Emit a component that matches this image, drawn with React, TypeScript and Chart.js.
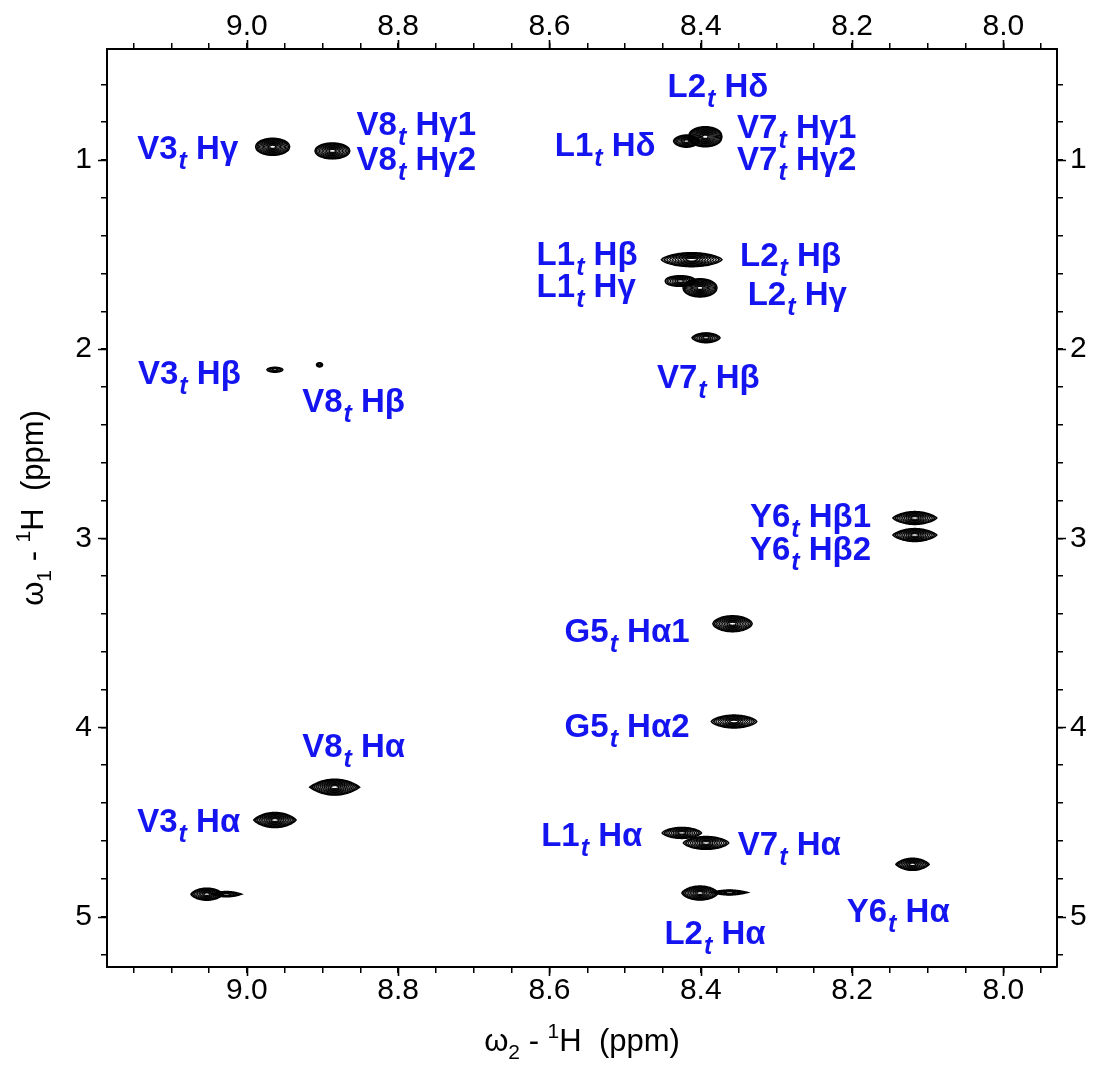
import React, { useEffect, useRef } from "react";
import { Chart, registerables } from "chart.js";

Chart.register(...registerables);

const FONT = '"Liberation Sans", Arial, Helvetica, sans-serif';
const BLUE = "rgb(20, 20, 240)";

// Axis ranges (ppm), both axes reversed as in the spectrum
const X_MIN = 7.929;
const X_MAX = 9.185;
const Y_MIN = 0.413;
const Y_MAX = 5.267;

// Peak (cross-peak) centres: omega2 (x) and omega1 (y), ppm
const peakX = [8.966, 8.887, 8.394, 8.419, 8.412, 8.401, 8.427, 8.393, 8.963, 8.904, 8.117, 8.117, 8.358, 8.356, 8.884, 8.963, 9.053, 9.027, 8.425, 8.393, 8.401, 8.362, 8.12];
const peakY = [0.93, 0.952, 0.877, 0.9, 1.527, 1.676, 1.64, 1.94, 2.109, 2.083, 2.893, 2.983, 3.452, 3.969, 4.316, 4.49, 4.882, 4.882, 4.558, 4.611, 4.876, 4.873, 4.724];
// Peak half-widths (ppm) along omega2 and omega1, and lineshape exponent
const peakHalfW2 = [0.0225, 0.023, 0.022, 0.017, 0.04, 0.0225, 0.02, 0.0185, 0.0105, 0.004, 0.029, 0.029, 0.026, 0.03, 0.033, 0.028, 0.021, 0.02, 0.026, 0.03, 0.024, 0.024, 0.022];
const peakHalfW1 = [0.045, 0.042, 0.053, 0.032, 0.037, 0.048, 0.028, 0.026, 0.013, 0.011, 0.034, 0.034, 0.042, 0.034, 0.042, 0.04, 0.032, 0.014, 0.029, 0.034, 0.037, 0.013, 0.032];
const peakShape = [0.5, 0.5, 0.45, 0.6, 0.7, 0.5, 0.45, 0.7, 0.6, 0.5, 0.8, 0.8, 0.6, 0.7, 0.9, 0.8, 0.7, 1.0, 0.7, 0.7, 0.7, 1.0, 0.8];

// Assignment labels
const labelResidue = ["V3", "V8", "V8", "L2", "L1", "V7", "V7", "L1", "L1", "L2", "L2", "V7", "V3", "V8", "Y6", "Y6", "G5", "G5", "V8", "V3", "L1", "V7", "L2", "Y6"];
const labelAtom = ["Hγ", "Hγ1", "Hγ2", "Hδ", "Hδ", "Hγ1", "Hγ2", "Hβ", "Hγ", "Hβ", "Hγ", "Hβ", "Hβ", "Hβ", "Hβ1", "Hβ2", "Hα1", "Hα2", "Hα", "Hα", "Hα", "Hα", "Hα", "Hα"];
const labelX = [9.145, 8.855, 8.855, 8.444, 8.593, 8.352, 8.352, 8.617, 8.617, 8.348, 8.338, 8.458, 9.144, 8.927, 8.335, 8.335, 8.58, 8.58, 8.927, 9.145, 8.611, 8.351, 8.448, 8.207];
const labelY = [0.93, 0.803, 0.988, 0.604, 0.914, 0.819, 0.988, 1.491, 1.66, 1.496, 1.702, 2.141, 2.12, 2.271, 2.875, 3.049, 3.483, 3.985, 4.094, 4.491, 4.565, 4.613, 5.084, 4.967];

// Ticks
const xMajorTicks = [8.0, 8.2, 8.4, 8.6, 8.8, 9.0];
const yMajorTicks = [1, 2, 3, 4, 5];
const xMinorStep = 0.05;
const yMinorStep = 0.2;

function drawRich(ctx: CanvasRenderingContext2D, parts: { t: string; size: number; dy: number }[], cx: number, baseline: number) {
  let total = 0;
  for (const p of parts) {
    ctx.font = `${p.size}px ${FONT}`;
    total += ctx.measureText(p.t).width;
  }
  let x = cx - total / 2;
  ctx.textAlign = "left";
  ctx.textBaseline = "alphabetic";
  for (const p of parts) {
    ctx.font = `${p.size}px ${FONT}`;
    ctx.fillText(p.t, x, baseline + p.dy);
    x += ctx.measureText(p.t).width;
  }
}

const nmrPlugin = {
  id: "nmrDecor",
  afterDatasetsDraw(chart: any) {
    const ctx: CanvasRenderingContext2D = chart.ctx;
    const xs = chart.scales.x;
    const ys = chart.scales.y;
    const area = chart.chartArea;
    ctx.save();
    ctx.beginPath();
    ctx.rect(area.left, area.top, area.right - area.left, area.bottom - area.top);
    ctx.clip();
    ctx.strokeStyle = "#000";
    for (let i = 0; i < peakX.length; i++) {
      const cx = xs.getPixelForValue(peakX[i]);
      const cy = ys.getPixelForValue(peakY[i]);
      const rx = Math.abs(xs.getPixelForValue(peakX[i] + peakHalfW2[i]) - cx);
      const ry = Math.abs(ys.getPixelForValue(peakY[i] + peakHalfW1[i]) - cy);
      const k = peakShape[i];
      const levels = Math.max(3, Math.round(ry / 0.7));
      for (let l = 0; l < levels; l++) {
        const s = 1 - (l / levels) * 0.9;
        ctx.lineWidth = l < 2 ? 1.5 : 1.1;
        const N = 48;
        ctx.beginPath();
        for (let j = 0; j <= N; j++) {
          const u = -1 + (2 * j) / N;
          const px = cx + u * rx * s;
          const py = cy - ry * s * Math.pow(Math.max(0, 1 - u * u), k);
          if (j === 0) ctx.moveTo(px, py);
          else ctx.lineTo(px, py);
        }
        for (let j = N; j >= 0; j--) {
          const u = -1 + (2 * j) / N;
          const px = cx + u * rx * s;
          const py = cy + ry * s * Math.pow(Math.max(0, 1 - u * u), k);
          ctx.lineTo(px, py);
        }
        ctx.closePath();
        ctx.stroke();
      }
    }
    ctx.restore();

    // assignment labels
    ctx.save();
    ctx.fillStyle = BLUE;
    ctx.textAlign = "left";
    ctx.textBaseline = "alphabetic";
    for (let i = 0; i < labelResidue.length; i++) {
      const x = xs.getPixelForValue(labelX[i]);
      const base = ys.getPixelForValue(labelY[i]) + 12;
      ctx.font = `bold 33px ${FONT}`;
      ctx.fillText(labelResidue[i], x, base);
      let w = ctx.measureText(labelResidue[i]).width + 1;
      ctx.font = `italic bold 25px ${FONT}`;
      ctx.fillText("t", x + w, base + 10);
      w += ctx.measureText("t").width;
      ctx.font = `bold 33px ${FONT}`;
      ctx.fillText(" " + labelAtom[i], x + w, base);
    }
    ctx.restore();
  },
  afterDraw(chart: any) {
    const ctx: CanvasRenderingContext2D = chart.ctx;
    const xs = chart.scales.x;
    const ys = chart.scales.y;
    const area = chart.chartArea;
    ctx.save();
    ctx.strokeStyle = "#000";
    ctx.lineWidth = 1.6;
    const L = 9;
    ctx.beginPath();
    for (const v of xMajorTicks) {
      const px = Math.round(xs.getPixelForValue(v)) + 0.5;
      ctx.moveTo(px, area.bottom);
      ctx.lineTo(px, area.bottom + L);
      ctx.moveTo(px, area.top);
      ctx.lineTo(px, area.top - L);
    }
    for (const v of yMajorTicks) {
      const py = Math.round(ys.getPixelForValue(v)) + 0.5;
      ctx.moveTo(area.left, py);
      ctx.lineTo(area.left - L, py);
      ctx.moveTo(area.right, py);
      ctx.lineTo(area.right + L, py);
    }
    ctx.stroke();

    // axis titles
    ctx.fillStyle = "#000";
    const cxTitle = (area.left + area.right) / 2;
    drawRich(
      ctx,
      [
        { t: "ω", size: 31, dy: 0 },
        { t: "2", size: 21, dy: 8 },
        { t: " - ", size: 31, dy: 0 },
        { t: "1", size: 21, dy: -13 },
        { t: "H  (ppm)", size: 31, dy: 0 },
      ],
      cxTitle,
      1051
    );
    const cyTitle = (area.top + area.bottom) / 2;
    ctx.translate(43, cyTitle);
    ctx.rotate(-Math.PI / 2);
    drawRich(
      ctx,
      [
        { t: "ω", size: 31, dy: 0 },
        { t: "1", size: 21, dy: 8 },
        { t: " - ", size: 31, dy: 0 },
        { t: "1", size: 21, dy: -13 },
        { t: "H  (ppm)", size: 31, dy: 0 },
      ],
      0,
      0
    );
    ctx.restore();
  },
};

function xTickLabel(v: number) {
  return Math.abs(v * 5 - Math.round(v * 5)) < 1e-6 ? v.toFixed(1) : "";
}
function yTickLabel(v: number) {
  return Math.abs(v - Math.round(v)) < 1e-6 ? String(Math.round(v)) : "";
}

function axis(position: string, isX: boolean, size: number, padding: number) {
  return {
    type: "linear",
    position,
    reverse: true,
    min: isX ? X_MIN : Y_MIN,
    max: isX ? X_MAX : Y_MAX,
    grid: {
      display: true,
      drawOnChartArea: false,
      drawTicks: true,
      tickLength: 6,
      color: "#000",
      tickColor: "#000",
      lineWidth: 1.5,
    },
    border: { display: true, color: "#000", width: 2 },
    ticks: {
      stepSize: isX ? xMinorStep : yMinorStep,
      includeBounds: false,
      autoSkip: false,
      maxRotation: 0,
      minRotation: 0,
      maxTicksLimit: 1000,
      padding,
      color: "#000",
      font: { family: FONT, size: 30 },
      callback: (v: any) => (isX ? xTickLabel(Number(v)) : yTickLabel(Number(v))),
    },
    afterFit: (scale: any) => {
      if (isX) scale.height = size;
      else scale.width = size;
    },
  };
}

export default function App() {
  const ref = useRef<HTMLCanvasElement | null>(null);
  useEffect(() => {
    if (!ref.current) return;
    const chart = new Chart(ref.current, {
      type: "scatter",
      data: {
        datasets: [
          {
            label: "peaks",
            data: peakX.map((x, i) => ({ x, y: peakY[i] })),
            pointRadius: 0,
            pointHoverRadius: 0,
            showLine: false,
            xAxisID: "x",
            yAxisID: "y",
          },
        ],
      },
      options: {
        animation: false,
        responsive: false,
        devicePixelRatio: 1,
        layout: { padding: 0 },
        plugins: { legend: { display: false }, tooltip: { enabled: false } },
        scales: {
          x: axis("bottom", true, 107, 0),
          x2: axis("top", true, 49, -2),
          y: axis("left", false, 107, 9),
          y2: axis("right", false, 37, 7),
        } as any,
      } as any,
      plugins: [nmrPlugin],
    });
    return () => chart.destroy();
  }, []);
  return (
    <canvas
      ref={ref}
      width={1094}
      height={1074}
      style={{ position: "fixed", left: 0, top: 0, width: 1094, height: 1074, background: "#fff" }}
    />
  );
}
